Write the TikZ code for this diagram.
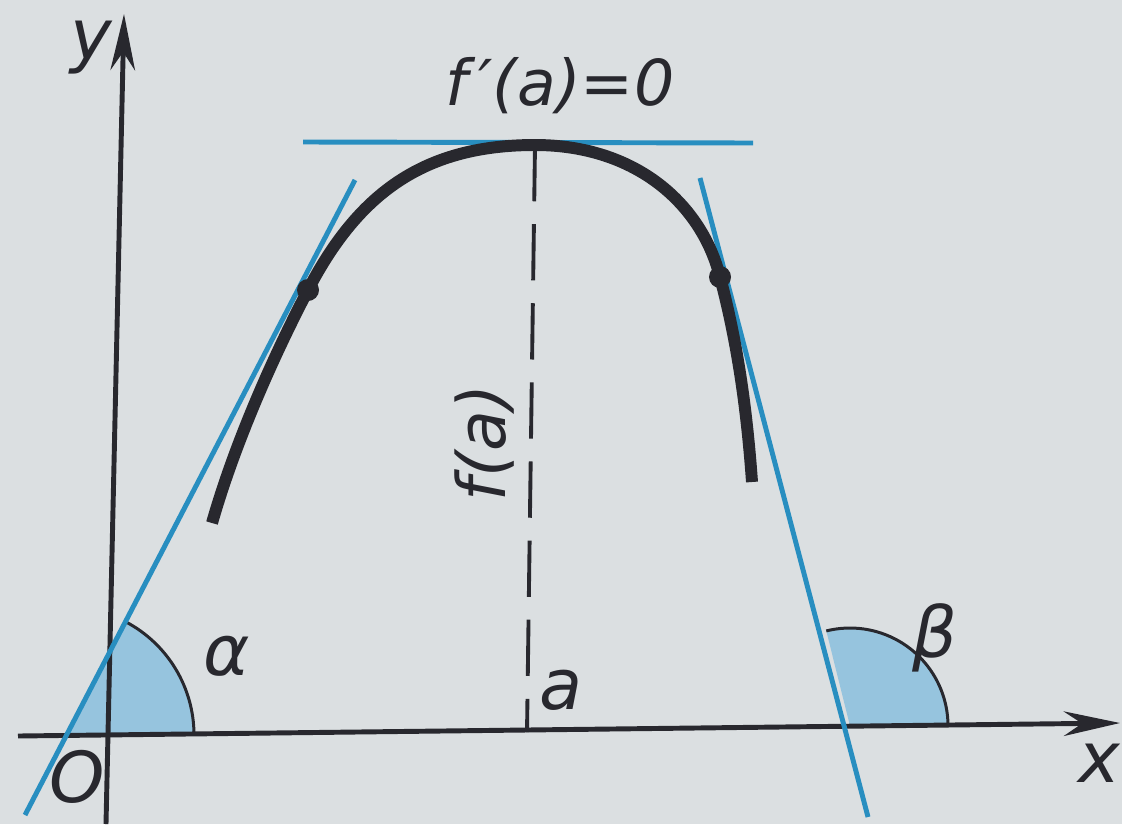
\documentclass[tikz,border=0pt]{standalone}
\usepackage{fontspec}
\setmainfont{DejaVu Sans}
\usetikzlibrary{arrows.meta}

\definecolor{paper}{RGB}{219,223,225}
\definecolor{ink}{RGB}{40,40,46}
\definecolor{tangent}{RGB}{40,142,192}
\definecolor{anglefill}{RGB}{150,196,222}

\begin{document}
\begin{tikzpicture}[
    x = 0.01cm, y = -0.01cm,
    axisline/.style = {draw = ink,
      line width = 1.4pt,
      -{Stealth[length = 16pt, width = 7pt]}},
    curve/.style = {draw = ink, line width = 3.4pt},
    touch/.style = {draw = tangent, line width = 1.4pt},
    tag/.style = {text = ink, inner sep = 0pt,
      font = \itshape\fontsize{20}{24}\selectfont}
    ]

    \fill [paper] (0, 0) rectangle (1122, 824);
    \useasboundingbox (0, 0) rectangle (1122, 824);

    \coordinate (Sa) at (66, 735);
    \coordinate (Sb) at (850, 726);
    \coordinate (P) at (308, 290);
    \coordinate (Q) at (720, 277);
    \coordinate (M) at (535, 145);
    \coordinate (A) at (527, 732);

    % shaded angles
    \fill [anglefill] (Sa) -- ++(128, 0) arc [start angle = 0, end angle = -62, radius = 128] -- cycle;
    \draw [ink, line width = 0.85pt] (Sa) ++(128, 0) arc [start angle = 0, end angle = -62, radius = 128];
    \fill [anglefill] (Sb) -- ++(98, 0) arc [start angle = 0, end angle = -104, radius = 98] -- cycle;
    \draw [ink, line width = 0.85pt] (Sb) ++(98, 0) arc [start angle = 0, end angle = -104, radius = 98];

    % axes
    \draw [axisline] (18, 736) coordinate (xleft) -- (1120, 723) coordinate (xright);
    \draw [axisline] (106, 824) coordinate (ybot) -- (124, 14) coordinate (ytop);

    % tangents
    \draw [touch] (25, 815) coordinate (L1) -- (355, 180) coordinate (L2);
    \draw [touch] (303, 142) coordinate (H1) -- (753, 143) coordinate (H2);
    \draw [touch] (700, 178) coordinate (R1) -- (868, 817) coordinate (R2);

    \draw [ink, line width = 1.1pt, dash pattern = on 16pt off 6.5pt] (M) -- (A);

    \draw [curve] (212, 523) .. controls (234, 446) and (271, 361) .. (P)
      .. controls (359, 192) and (425, 145) .. (M)
      .. controls (637, 145) and (702, 205) .. (Q)
      .. controls (738, 345) and (747, 412) .. (752, 482);
    \fill [ink] (P) circle [radius = 11];
    \fill [ink] (Q) circle [radius = 11];

    \node at (91, 48) [tag, name = y] {y};
    \node at (1099, 763) [tag, name = x] {x};
    \node at (77, 777) [tag, name = O] {O};
    \node at (227, 656) [tag, name = alpha] {α};
    \node at (935, 638) [tag, name = beta] {β};
    \node at (561, 690) [tag, name = a] {a};
    \node at (485, 443) [tag, rotate = 90, name = fa,
      font = \itshape\fontsize{19}{23}\selectfont] {f(a)};
    \node at (560, 86) [tag, name = slope,
      font = \itshape\fontsize{18}{22}\selectfont] {f\,′(a)=0};
  \end{tikzpicture}
\end{document}
